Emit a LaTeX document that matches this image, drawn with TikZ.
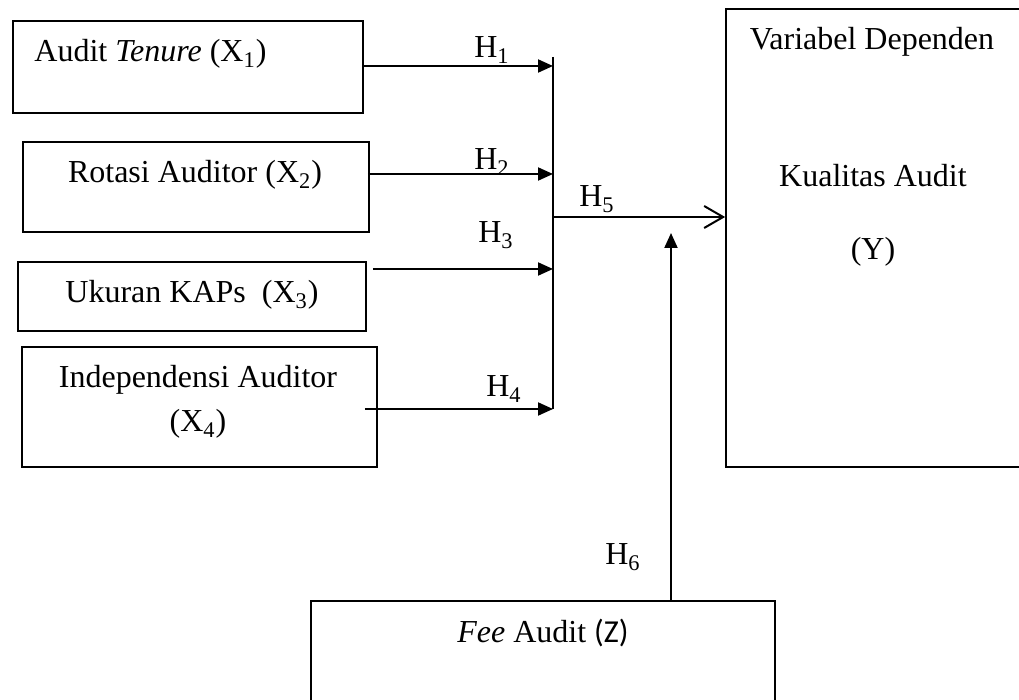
\documentclass[tikz,border=0pt]{standalone}
\usepackage{fontspec}
\setmainfont{Liberation Serif}
\newfontfamily\calibri{Carlito}
\usetikzlibrary{arrows.meta}

\tikzset{
  varbox/.style={draw, rectangle, line width=0.85pt, inner sep=0pt},
  hyp/.style={line width=1pt, -{Triangle[length=7.5pt, width=6.5pt]}},
  txt/.style={inner sep=0pt, anchor=base, font=\fontsize{16}{22}\selectfont}
}

\begin{document}
\begin{tikzpicture}[x=0.5pt, y=-0.5pt]
\useasboundingbox (0,0) rectangle (1019,700);

% independent variables
\node[varbox, minimum width=175pt, minimum height=46pt] (X1) at (188,67) {};
\node[varbox, minimum width=173pt, minimum height=45pt] (X2) at (196,187) {};
\node[varbox, minimum width=174pt, minimum height=34.5pt] (X3) at (192,296.5) {};
\node[varbox, minimum width=177.5pt, minimum height=60pt] (X4) at (199.5,407) {};

\node[txt, anchor=base west] (tX1) at (34,62) {Audit \textit{Tenure} (X\textsubscript{1})};
\node[txt] (tX2) at (195,183) {Rotasi Auditor (X\textsubscript{2})};
\node[txt] (tX3) at (192,303) {Ukuran KAPs\ \ (X\textsubscript{3})};
\node[txt] (tX4a) at (198,388) {Independensi Auditor};
\node[txt] (tX4b) at (198,432) {(X\textsubscript{4})};

% dependent variable
\node[varbox, minimum width=152pt, minimum height=229pt] (Y) at (878,238) {};
\node[txt] (tY1) at (872,50) {Variabel Dependen};
\node[txt] (tY2) at (873,187) {Kualitas Audit};
\node[txt] (tY3) at (873,260) {(Y)};

% moderating variable
\node[varbox, minimum width=232pt, minimum height=59.5pt] (Z) at (543,660.5) {};
\node[txt] (tZ) at (543,642) {\textit{Fee} Audit {\calibri(Z)}};

% joining bar
\coordinate (bartop) at (553,57);
\coordinate (barbot) at (553,409);
\coordinate (h1) at (553,66);
\coordinate (h2) at (553,174);
\coordinate (h3) at (553,269);
\coordinate (h4) at (553,409);
\coordinate (h5) at (553,217);
\coordinate (h6) at (671,233);

\draw[line width=1pt] (bartop) -- (barbot);

\draw[hyp] (X1.east |- h1) -- (h1);
\draw[hyp] ([xshift=-1pt]X2.east |- h2) -- (h2);
\draw[hyp] ([xshift=3pt]X3.east |- h3) -- (h3);
\draw[hyp] ([xshift=-6.5pt]X4.east |- h4) -- (h4);
\draw[line width=1pt, -{Straight Barb[length=9.5pt, width=11pt]}] (h5) -- (Y.west |- h5);
\draw[hyp] (Z.north -| h6) -- (h6);

% hypothesis labels
\node[txt] (l1) at (492,58) {H\textsubscript{1}};
\node[txt] (l2) at (492,170) {H\textsubscript{2}};
\node[txt] (l3) at (496,243) {H\textsubscript{3}};
\node[txt] (l4) at (504,397) {H\textsubscript{4}};
\node[txt] (l5) at (597,207) {H\textsubscript{5}};
\node[txt] (l6) at (623,565) {H\textsubscript{6}};
\end{tikzpicture}
\end{document}
